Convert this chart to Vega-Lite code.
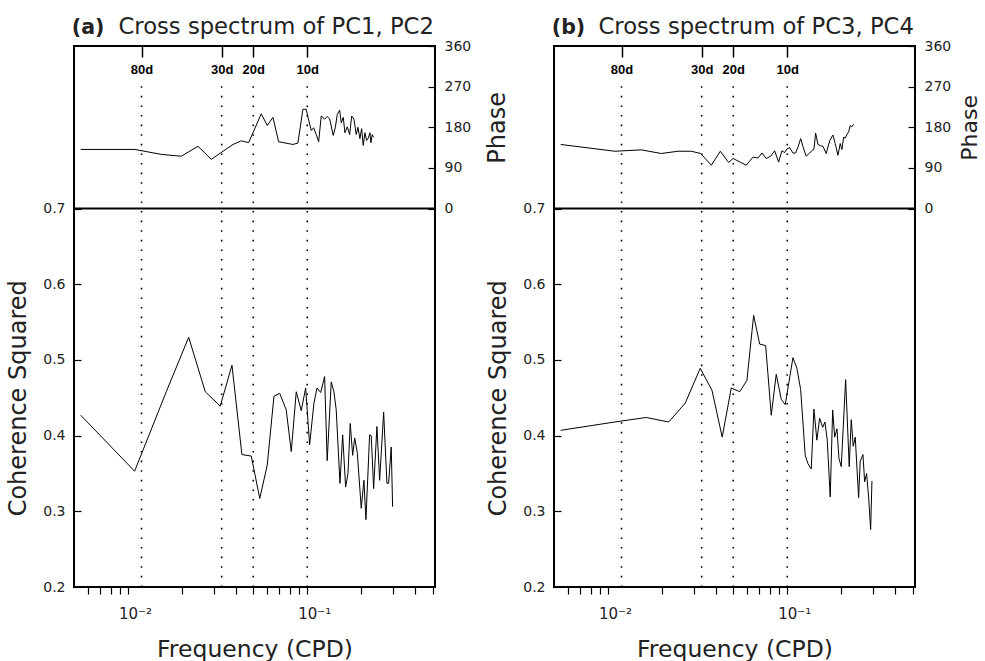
{
  "$schema": "https://vega.github.io/schema/vega-lite/v6.json",
  "background": "white",
  "padding": {"left": 5, "top": 14, "right": 0, "bottom": 0},
  "datasets": {
    "periods": [
      {"freq": 0.0119, "period": "80d"},
      {"freq": 0.03333, "period": "30d"},
      {"freq": 0.05, "period": "20d"},
      {"freq": 0.1, "period": "10d"}
    ],
    "a_phase": [
      {"freq": 0.00545, "phase": 131}, {"freq": 0.01093, "phase": 131}, {"freq": 0.01534, "phase": 120},
      {"freq": 0.01984, "phase": 116}, {"freq": 0.02457, "phase": 138}, {"freq": 0.02915, "phase": 109},
      {"freq": 0.03852, "phase": 142}, {"freq": 0.04287, "phase": 150}, {"freq": 0.04712, "phase": 146},
      {"freq": 0.05539, "phase": 210}, {"freq": 0.05984, "phase": 184}, {"freq": 0.06437, "phase": 202},
      {"freq": 0.06925, "phase": 148}, {"freq": 0.0832, "phase": 142}, {"freq": 0.0887, "phase": 145},
      {"freq": 0.0946, "phase": 220}, {"freq": 0.0987, "phase": 220}, {"freq": 0.1018, "phase": 196},
      {"freq": 0.1053, "phase": 173}, {"freq": 0.1086, "phase": 179}, {"freq": 0.1122, "phase": 164},
      {"freq": 0.1158, "phase": 148}, {"freq": 0.1197, "phase": 205}, {"freq": 0.125, "phase": 198},
      {"freq": 0.1292, "phase": 204}, {"freq": 0.1333, "phase": 199}, {"freq": 0.1396, "phase": 162},
      {"freq": 0.1433, "phase": 179}, {"freq": 0.147, "phase": 208}, {"freq": 0.1516, "phase": 218},
      {"freq": 0.1548, "phase": 190}, {"freq": 0.1588, "phase": 202}, {"freq": 0.1623, "phase": 168},
      {"freq": 0.1672, "phase": 181}, {"freq": 0.1724, "phase": 164}, {"freq": 0.1769, "phase": 205},
      {"freq": 0.1822, "phase": 198}, {"freq": 0.1876, "phase": 164}, {"freq": 0.1918, "phase": 180},
      {"freq": 0.1967, "phase": 155}, {"freq": 0.2011, "phase": 177}, {"freq": 0.2052, "phase": 140},
      {"freq": 0.2098, "phase": 168}, {"freq": 0.2144, "phase": 151}, {"freq": 0.2189, "phase": 156},
      {"freq": 0.2237, "phase": 168}, {"freq": 0.2266, "phase": 146}, {"freq": 0.2304, "phase": 164},
      {"freq": 0.2346, "phase": 158}
    ],
    "a_coh": [
      {"freq": 0.00545, "coh": 0.427}, {"freq": 0.01089, "coh": 0.353}, {"freq": 0.01636, "coh": 0.458},
      {"freq": 0.02181, "coh": 0.530}, {"freq": 0.02699, "coh": 0.458}, {"freq": 0.0327, "coh": 0.439},
      {"freq": 0.03803, "coh": 0.493}, {"freq": 0.0432, "coh": 0.375}, {"freq": 0.04872, "coh": 0.373},
      {"freq": 0.05434, "coh": 0.317}, {"freq": 0.05983, "coh": 0.361}, {"freq": 0.06521, "coh": 0.452},
      {"freq": 0.07018, "coh": 0.456}, {"freq": 0.07636, "coh": 0.434}, {"freq": 0.08144, "coh": 0.379},
      {"freq": 0.08683, "coh": 0.458}, {"freq": 0.09259, "coh": 0.433}, {"freq": 0.09797, "coh": 0.463},
      {"freq": 0.1031, "coh": 0.388}, {"freq": 0.109, "coh": 0.443}, {"freq": 0.1134, "coh": 0.463},
      {"freq": 0.1188, "coh": 0.457}, {"freq": 0.125, "coh": 0.478}, {"freq": 0.1292, "coh": 0.367},
      {"freq": 0.1361, "coh": 0.471}, {"freq": 0.1409, "coh": 0.458}, {"freq": 0.1451, "coh": 0.434},
      {"freq": 0.1522, "coh": 0.337}, {"freq": 0.1576, "coh": 0.401}, {"freq": 0.1637, "coh": 0.332},
      {"freq": 0.1687, "coh": 0.350}, {"freq": 0.1737, "coh": 0.416}, {"freq": 0.1792, "coh": 0.374},
      {"freq": 0.1839, "coh": 0.397}, {"freq": 0.1901, "coh": 0.378}, {"freq": 0.2001, "coh": 0.304},
      {"freq": 0.2071, "coh": 0.341}, {"freq": 0.2125, "coh": 0.289}, {"freq": 0.2228, "coh": 0.401},
      {"freq": 0.2275, "coh": 0.400}, {"freq": 0.2346, "coh": 0.330}, {"freq": 0.2447, "coh": 0.412},
      {"freq": 0.2534, "coh": 0.341}, {"freq": 0.2668, "coh": 0.431}, {"freq": 0.2783, "coh": 0.337},
      {"freq": 0.2844, "coh": 0.337}, {"freq": 0.2941, "coh": 0.385}, {"freq": 0.2994, "coh": 0.306}
    ],
    "b_phase": [
      {"freq": 0.00545, "phase": 142}, {"freq": 0.01093, "phase": 127}, {"freq": 0.01534, "phase": 130},
      {"freq": 0.01984, "phase": 122}, {"freq": 0.02457, "phase": 127}, {"freq": 0.02915, "phase": 127},
      {"freq": 0.03289, "phase": 122}, {"freq": 0.03773, "phase": 96}, {"freq": 0.04232, "phase": 127},
      {"freq": 0.04712, "phase": 102}, {"freq": 0.04985, "phase": 111}, {"freq": 0.05907, "phase": 96},
      {"freq": 0.06437, "phase": 114}, {"freq": 0.06867, "phase": 112}, {"freq": 0.07224, "phase": 123},
      {"freq": 0.07636, "phase": 111}, {"freq": 0.08079, "phase": 116}, {"freq": 0.08505, "phase": 128},
      {"freq": 0.08954, "phase": 103}, {"freq": 0.0934, "phase": 128}, {"freq": 0.0967, "phase": 124},
      {"freq": 0.0996, "phase": 132}, {"freq": 0.1031, "phase": 135}, {"freq": 0.1076, "phase": 123},
      {"freq": 0.1114, "phase": 123}, {"freq": 0.1152, "phase": 138}, {"freq": 0.1188, "phase": 155},
      {"freq": 0.1229, "phase": 135}, {"freq": 0.1276, "phase": 116}, {"freq": 0.1333, "phase": 123},
      {"freq": 0.1379, "phase": 129}, {"freq": 0.1409, "phase": 131}, {"freq": 0.144, "phase": 167},
      {"freq": 0.1484, "phase": 142}, {"freq": 0.1536, "phase": 139}, {"freq": 0.1582, "phase": 138},
      {"freq": 0.165, "phase": 122}, {"freq": 0.1724, "phase": 150}, {"freq": 0.1798, "phase": 163},
      {"freq": 0.1852, "phase": 144}, {"freq": 0.1918, "phase": 118}, {"freq": 0.1975, "phase": 144},
      {"freq": 0.2019, "phase": 131}, {"freq": 0.2063, "phase": 158}, {"freq": 0.2106, "phase": 156},
      {"freq": 0.2153, "phase": 164}, {"freq": 0.2201, "phase": 170}, {"freq": 0.2246, "phase": 184},
      {"freq": 0.2291, "phase": 181}, {"freq": 0.2346, "phase": 187}
    ],
    "b_coh": [
      {"freq": 0.00545, "coh": 0.407}, {"freq": 0.01089, "coh": 0.418}, {"freq": 0.01636, "coh": 0.424},
      {"freq": 0.02181, "coh": 0.418}, {"freq": 0.02699, "coh": 0.443}, {"freq": 0.0327, "coh": 0.489},
      {"freq": 0.03803, "coh": 0.460}, {"freq": 0.04338, "coh": 0.398}, {"freq": 0.04872, "coh": 0.463},
      {"freq": 0.05434, "coh": 0.458}, {"freq": 0.05959, "coh": 0.473}, {"freq": 0.06494, "coh": 0.559},
      {"freq": 0.07018, "coh": 0.521}, {"freq": 0.07578, "coh": 0.519}, {"freq": 0.08144, "coh": 0.427},
      {"freq": 0.08683, "coh": 0.481}, {"freq": 0.09259, "coh": 0.448}, {"freq": 0.09745, "coh": 0.441},
      {"freq": 0.1076, "coh": 0.503}, {"freq": 0.1132, "coh": 0.489}, {"freq": 0.1188, "coh": 0.461},
      {"freq": 0.126, "coh": 0.374}, {"freq": 0.1305, "coh": 0.363}, {"freq": 0.1361, "coh": 0.356},
      {"freq": 0.1409, "coh": 0.435}, {"freq": 0.1463, "coh": 0.394}, {"freq": 0.1516, "coh": 0.423},
      {"freq": 0.1576, "coh": 0.411}, {"freq": 0.1623, "coh": 0.418}, {"freq": 0.1672, "coh": 0.394},
      {"freq": 0.1737, "coh": 0.319}, {"freq": 0.1792, "coh": 0.434}, {"freq": 0.1839, "coh": 0.398},
      {"freq": 0.1894, "coh": 0.409}, {"freq": 0.1943, "coh": 0.370}, {"freq": 0.2001, "coh": 0.359},
      {"freq": 0.2117, "coh": 0.474}, {"freq": 0.2217, "coh": 0.359}, {"freq": 0.2275, "coh": 0.421},
      {"freq": 0.2334, "coh": 0.386}, {"freq": 0.2395, "coh": 0.398}, {"freq": 0.2501, "coh": 0.318},
      {"freq": 0.2553, "coh": 0.366}, {"freq": 0.2644, "coh": 0.375}, {"freq": 0.2702, "coh": 0.339},
      {"freq": 0.2772, "coh": 0.350}, {"freq": 0.2844, "coh": 0.319}, {"freq": 0.2919, "coh": 0.276},
      {"freq": 0.2968, "coh": 0.340}
    ]
  },
  "hconcat": [
    {
      "width": 361, "height": 541,
      "layer": [
        {
          "data": {"name": "periods"},
          "mark": {"type": "rule", "strokeDash": [1.6, 8], "strokeWidth": 1.6, "color": "black"},
          "encoding": {
            "x": {"field": "freq", "type": "quantitative",
              "scale": {"type": "log", "domain": [0.005, 0.516], "nice": false},
              "axis": {"orient": "top", "values": [0.0119, 0.03333, 0.05, 0.1],
                "labelExpr": "datum.value < 0.02 ? '80d' : datum.value < 0.04 ? '30d' : datum.value < 0.07 ? '20d' : '10d'",
                "tickSize": -11, "tickWidth": 1.5, "tickColor": "black",
                "labelPadding": -16.6, "labelBaseline": "alphabetic", "labelFont": "Liberation Sans",
                "labelFontWeight": "bold", "labelFontSize": 13, "labelColor": "black",
                "labelFlush": false, "labelOverlap": false, "domain": false, "grid": false,
                "title": "Cross spectrum of PC1, PC2", "titleFont": "DejaVu Sans", "titleFontSize": 22.7,
                "titleFontWeight": "normal", "titleX": 44, "titleY": -12.4, "titleAlign": "left",
                "titleBaseline": "alphabetic", "titleAngle": 0}},
            "y": {"datum": 0.2, "type": "quantitative",
              "scale": {"domain": [0.2, 0.7], "range": [541, 162.6], "nice": false, "zero": false}, "axis": null},
            "y2": {"datum": 0.872}
          }
        },
        {
          "data": {"name": "a_phase"},
          "mark": {"type": "line", "color": "black", "strokeWidth": 1},
          "encoding": {
            "x": {"field": "freq", "type": "quantitative",
              "scale": {"type": "log", "domain": [0.005, 0.516], "nice": false},
              "axis": {"orient": "top", "labels": false, "ticks": false, "domain": false, "grid": false,
                "title": "(a)", "titleFont": "DejaVu Sans", "titleFontWeight": "bold", "titleFontSize": 20.5,
                "titleX": -2.7, "titleY": -12.2, "titleAlign": "left", "titleBaseline": "alphabetic", "titleAngle": 0}},
            "y": {"field": "phase", "type": "quantitative",
              "scale": {"domain": [0, 360], "range": [162.6, 0], "nice": false, "zero": false},
              "axis": {"orient": "right", "values": [0, 90, 180, 270, 360], "tickSize": -7, "labelPadding": 16,
                "labelOverlap": false, "labelFlush": false, "domain": false, "grid": false,
                "title": "Phase", "titleFontSize": 24, "titleAngle": 270, "titleBaseline": "top", "titlePadding": 15}}
          }
        },
        {
          "data": {"name": "a_coh"},
          "mark": {"type": "line", "color": "black", "strokeWidth": 1},
          "encoding": {
            "x": {"field": "freq", "type": "quantitative",
              "scale": {"type": "log", "domain": [0.005, 0.516], "nice": false},
              "axis": {"orient": "bottom",
                "values": [0.006, 0.007, 0.008, 0.009, 0.01, 0.02, 0.03, 0.04, 0.05, 0.06, 0.07, 0.08, 0.09, 0.1, 0.2, 0.3, 0.4, 0.5],
                "labelExpr": "abs(datum.value - 0.01) < 1e-9 ? '10⁻²' : abs(datum.value - 0.1) < 1e-9 ? '10⁻¹' : ''",
                "tickSize": 7, "labelPadding": 12, "labelFlush": false, "labelOverlap": false,
                "labelAlign": "center", "labelOffset": 7, "labelFontSize": 15,
                "domain": false, "grid": false, "title": "Frequency (CPD)", "titleFontSize": 23.5, "titlePadding": 16}},
            "y": {"field": "coh", "type": "quantitative",
              "scale": {"domain": [0.2, 0.7], "range": [541, 162.6], "nice": false, "zero": false},
              "axis": {"orient": "left", "values": [0.2, 0.3, 0.4, 0.5, 0.6, 0.7], "format": ".1f",
                "tickSize": -7, "labelPadding": 16, "labelOverlap": false, "labelFlush": false,
                "domain": false, "grid": false, "title": "Coherence Squared", "titleFontSize": 24, "titlePadding": 12}}
          }
        },
        {
          "data": {"values": [{}]},
          "mark": {"type": "rule", "strokeWidth": 2, "color": "black"},
          "encoding": {
            "y": {"datum": 0.7, "type": "quantitative",
              "scale": {"domain": [0.2, 0.7], "range": [541, 162.6], "nice": false, "zero": false}, "axis": null}
          }
        }
      ],
      "resolve": {"scale": {"y": "independent"}, "axis": {"x": "independent", "y": "independent"}}
    },
    {
      "width": 361, "height": 541,
      "layer": [
        {
          "data": {"name": "periods"},
          "mark": {"type": "rule", "strokeDash": [1.6, 8], "strokeWidth": 1.6, "color": "black"},
          "encoding": {
            "x": {"field": "freq", "type": "quantitative",
              "scale": {"type": "log", "domain": [0.005, 0.516], "nice": false},
              "axis": {"orient": "top", "values": [0.0119, 0.03333, 0.05, 0.1],
                "labelExpr": "datum.value < 0.02 ? '80d' : datum.value < 0.04 ? '30d' : datum.value < 0.07 ? '20d' : '10d'",
                "tickSize": -11, "tickWidth": 1.5, "tickColor": "black",
                "labelPadding": -16.6, "labelBaseline": "alphabetic", "labelFont": "Liberation Sans",
                "labelFontWeight": "bold", "labelFontSize": 13, "labelColor": "black",
                "labelFlush": false, "labelOverlap": false, "domain": false, "grid": false,
                "title": "Cross spectrum of PC3, PC4", "titleFont": "DejaVu Sans", "titleFontSize": 22.7,
                "titleFontWeight": "normal", "titleX": 44, "titleY": -12.4, "titleAlign": "left",
                "titleBaseline": "alphabetic", "titleAngle": 0}},
            "y": {"datum": 0.2, "type": "quantitative",
              "scale": {"domain": [0.2, 0.7], "range": [541, 162.6], "nice": false, "zero": false}, "axis": null},
            "y2": {"datum": 0.872}
          }
        },
        {
          "data": {"name": "b_phase"},
          "mark": {"type": "line", "color": "black", "strokeWidth": 1},
          "encoding": {
            "x": {"field": "freq", "type": "quantitative",
              "scale": {"type": "log", "domain": [0.005, 0.516], "nice": false},
              "axis": {"orient": "top", "labels": false, "ticks": false, "domain": false, "grid": false,
                "title": "(b)", "titleFont": "DejaVu Sans", "titleFontWeight": "bold", "titleFontSize": 20.5,
                "titleX": -2.7, "titleY": -12.2, "titleAlign": "left", "titleBaseline": "alphabetic", "titleAngle": 0}},
            "y": {"field": "phase", "type": "quantitative",
              "scale": {"domain": [0, 360], "range": [162.6, 0], "nice": false, "zero": false},
              "axis": {"orient": "right", "values": [0, 90, 180, 270, 360], "tickSize": -7, "labelPadding": 16,
                "labelOverlap": false, "labelFlush": false, "domain": false, "grid": false,
                "title": "Phase", "titleFontSize": 22, "titleAngle": 270, "titleBaseline": "top", "titlePadding": 9}}
          }
        },
        {
          "data": {"name": "b_coh"},
          "mark": {"type": "line", "color": "black", "strokeWidth": 1},
          "encoding": {
            "x": {"field": "freq", "type": "quantitative",
              "scale": {"type": "log", "domain": [0.005, 0.516], "nice": false},
              "axis": {"orient": "bottom",
                "values": [0.006, 0.007, 0.008, 0.009, 0.01, 0.02, 0.03, 0.04, 0.05, 0.06, 0.07, 0.08, 0.09, 0.1, 0.2, 0.3, 0.4, 0.5],
                "labelExpr": "abs(datum.value - 0.01) < 1e-9 ? '10⁻²' : abs(datum.value - 0.1) < 1e-9 ? '10⁻¹' : ''",
                "tickSize": 7, "labelPadding": 12, "labelFlush": false, "labelOverlap": false,
                "labelAlign": "center", "labelOffset": 7, "labelFontSize": 15,
                "domain": false, "grid": false, "title": "Frequency (CPD)", "titleFontSize": 23.5, "titlePadding": 16}},
            "y": {"field": "coh", "type": "quantitative",
              "scale": {"domain": [0.2, 0.7], "range": [541, 162.6], "nice": false, "zero": false},
              "axis": {"orient": "left", "values": [0.2, 0.3, 0.4, 0.5, 0.6, 0.7], "format": ".1f",
                "tickSize": -7, "labelPadding": 16, "labelOverlap": false, "labelFlush": false,
                "domain": false, "grid": false, "title": "Coherence Squared", "titleFontSize": 24, "titlePadding": 12}}
          }
        },
        {
          "data": {"values": [{}]},
          "mark": {"type": "rule", "strokeWidth": 2, "color": "black"},
          "encoding": {
            "y": {"datum": 0.7, "type": "quantitative",
              "scale": {"domain": [0.2, 0.7], "range": [541, 162.6], "nice": false, "zero": false}, "axis": null}
          }
        }
      ],
      "resolve": {"scale": {"y": "independent"}, "axis": {"x": "independent", "y": "independent"}}
    }
  ],
  "spacing": 119,
  "bounds": "flush",
  "config": {
    "view": {"stroke": "black", "strokeWidth": 2},
    "font": "DejaVu Sans",
    "axis": {
      "labelFont": "DejaVu Sans", "labelFontSize": 14, "labelColor": "#222",
      "titleFont": "DejaVu Sans", "titleFontSize": 22, "titleFontWeight": "normal", "titleColor": "#222",
      "tickColor": "black", "tickWidth": 1.2
    }
  }
}
